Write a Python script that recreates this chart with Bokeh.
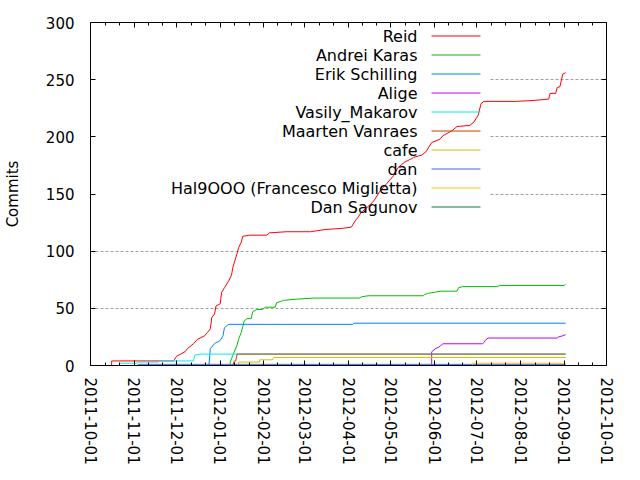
import datetime as dt
import pandas as pd
from bokeh.plotting import figure
from bokeh.models import (Range1d, FixedTicker, DatetimeAxis, LinearAxis,
                          DatetimeTickFormatter, Grid)
from bokeh.embed import file_html
from bokeh.resources import INLINE
from bokeh.core.properties import value

# ---------------- data ----------------
authors = ["Reid", "Andrei Karas", "Erik Schilling", "Alige", "Vasily_Makarov",
           "Maarten Vanraes", "cafe", "dan", "Hal9OOO (Francesco Miglietta)", "Dan Sagunov"]
colors = ["#ff0000", "#00c000", "#0080ff", "#c000ff", "#00eeee",
          "#c04000", "#c8c800", "#4169e1", "#ffc020", "#008040"]

reid_dates = ["2011-10-16", "2011-10-16", "2011-11-29", "2011-12-01", "2011-12-04", "2011-12-07",
              "2011-12-09", "2011-12-13", "2011-12-16", "2011-12-21", "2011-12-23", "2011-12-25",
              "2011-12-26", "2011-12-28", "2011-12-29", "2012-01-01", "2012-01-02", "2012-01-04",
              "2012-01-07", "2012-01-09", "2012-01-10", "2012-01-13", "2012-01-14", "2012-01-16",
              "2012-01-17", "2012-01-22", "2012-02-03", "2012-02-05", "2012-02-17", "2012-03-05",
              "2012-03-16", "2012-03-28", "2012-04-03", "2012-04-06", "2012-04-08", "2012-04-10",
              "2012-04-14", "2012-04-19", "2012-04-23", "2012-04-28", "2012-05-03", "2012-05-06",
              "2012-05-11", "2012-05-16", "2012-05-17", "2012-05-23", "2012-05-26", "2012-05-30",
              "2012-06-05", "2012-06-07", "2012-06-13", "2012-06-17", "2012-06-26", "2012-06-29",
              "2012-07-02", "2012-07-04", "2012-07-06", "2012-07-29", "2012-08-12", "2012-08-21",
              "2012-08-22", "2012-08-26", "2012-08-27", "2012-08-29", "2012-08-31", "2012-09-02"]
reid_commits = [0, 4, 4, 8, 10, 12,
                15, 19, 23, 26, 29, 32,
                42, 45, 52, 54, 64, 68,
                74, 79, 86, 98, 103, 108,
                113, 114, 114, 116, 117, 117,
                119, 120, 121, 127, 130, 134,
                138, 144, 152, 159, 166, 173,
                178, 181, 182, 184, 187, 195,
                198, 201, 205, 209, 210, 213,
                219, 229, 231, 231, 232, 233,
                238, 238, 243, 244, 255, 256]

andrei_dates = ["2011-10-16", "2012-01-08", "2012-01-08", "2012-01-09", "2012-01-10", "2012-01-11",
                "2012-01-13", "2012-01-14", "2012-01-16", "2012-01-17", "2012-01-18", "2012-01-20",
                "2012-01-23", "2012-01-24", "2012-01-27", "2012-01-31", "2012-02-02", "2012-02-09",
                "2012-02-10", "2012-02-13", "2012-02-15", "2012-02-24", "2012-03-08", "2012-04-09",
                "2012-04-10", "2012-04-15", "2012-05-24", "2012-05-25", "2012-05-27", "2012-06-01",
                "2012-06-05", "2012-06-17", "2012-06-18", "2012-06-21", "2012-07-16", "2012-07-17",
                "2012-09-01", "2012-09-02"]
andrei_commits = [0, 0, 2, 6, 9, 12,
                  18, 23, 29, 34, 39, 41,
                  41, 47, 49, 49, 51, 51,
                  55, 56, 57, 58, 59, 59,
                  60, 61, 61, 62, 63, 64,
                  65, 65, 68, 69, 69, 70,
                  70, 71]

erik_dates = ["2011-10-16", "2011-12-24", "2011-12-25", "2011-12-26", "2011-12-27", "2011-12-29",
              "2011-12-31", "2012-01-01", "2012-01-03", "2012-01-04", "2012-01-05", "2012-01-07",
              "2012-04-04", "2012-04-05", "2012-09-02"]
erik_commits = [0, 0, 15, 16, 18, 20,
                21, 22, 26, 33, 34, 36,
                36, 37, 37]

alige_dates = ["2011-10-16", "2012-05-30", "2012-05-30", "2012-05-31", "2012-06-02", "2012-06-04",
               "2012-06-05", "2012-06-07", "2012-07-05", "2012-07-06", "2012-07-07", "2012-07-09",
               "2012-08-27", "2012-08-28", "2012-08-31", "2012-09-02"]
alige_commits = [0, 0, 12, 13, 15, 16,
                 17, 19, 19, 20, 22, 24,
                 24, 25, 26, 27]

vasily_dates = ["2011-10-16", "2011-10-21", "2011-10-22", "2011-11-03", "2011-11-04", "2011-11-18",
                "2011-11-19", "2011-12-13", "2011-12-14", "2011-12-18", "2012-09-02"]
vasily_commits = [0, 0, 2, 2, 3, 3,
                  4, 4, 9, 10, 10]

maarten_dates = ["2011-10-16", "2012-01-10", "2012-01-11", "2012-01-12", "2012-01-13", "2012-09-02"]
maarten_commits = [0, 0, 4, 4, 10, 10]

cafe_dates = ["2011-10-16", "2012-01-14", "2012-01-14", "2012-01-29", "2012-01-29", "2012-02-07",
              "2012-02-08", "2012-09-02"]
cafe_commits = [0, 0, 3, 3, 5, 5,
                7, 7]

dan_dates = ["2011-10-16", "2011-11-04", "2011-11-04", "2012-09-02"]
dan_commits = [0, 0, 1, 1]

hal_dates = ["2011-10-16", "2012-06-28", "2012-06-28", "2012-09-02"]
hal_commits = [0, 0, 2, 2]

sagunov_dates = ["2011-10-16", "2012-09-02"]
sagunov_commits = [0, 0]

series_dates = [reid_dates, andrei_dates, erik_dates, alige_dates, vasily_dates,
                maarten_dates, cafe_dates, dan_dates, hal_dates, sagunov_dates]
series_commits = [reid_commits, andrei_commits, erik_commits, alige_commits, vasily_commits,
                  maarten_commits, cafe_commits, dan_commits, hal_commits, sagunov_commits]

month_ticks = ["2011-10-01", "2011-11-01", "2011-12-01", "2012-01-01", "2012-02-01",
               "2012-03-01", "2012-04-01", "2012-05-01", "2012-06-01", "2012-07-01",
               "2012-08-01", "2012-09-01", "2012-10-01"]
y_ticks = [0, 50, 100, 150, 200, 250, 300]

# ---------------- helpers ----------------
FONT = "DejaVu Sans"
FS = "15px"
KEY_FS = "16px"

def ms(s):
    return pd.Timestamp(s).value // 10**6

x_start = dt.datetime(2011, 10, 1)
x_end = dt.datetime(2012, 10, 1)
x0_ms, x1_ms = ms("2011-10-01"), ms("2012-10-01")
Y0, Y1 = 0, 300

# frame geometry (reference picture pixels)
FX0, FX1, FY0, FY1 = 90.0, 606.0, 22.0, 365.0

def px_to_x(px):
    return x0_ms + (px - FX0) / (FX1 - FX0) * (x1_ms - x0_ms)

def px_to_y(py):
    return Y0 + (FY1 - py) / (FY1 - FY0) * (Y1 - Y0)

major = [ms(m) for m in month_ticks]
minor = []
for a, b in zip(major[:-1], major[1:]):
    minor += [a + (b - a) / 3.0, a + 2.0 * (b - a) / 3.0]

xticker = FixedTicker(ticks=major, minor_ticks=minor)
yticker = FixedTicker(ticks=y_ticks)
fmt = DatetimeTickFormatter(microseconds="%Y-%m-%d", milliseconds="%Y-%m-%d", seconds="%Y-%m-%d",
                            minsec="%Y-%m-%d", minutes="%Y-%m-%d", hourmin="%Y-%m-%d",
                            hours="%Y-%m-%d", days="%Y-%m-%d", months="%Y-%m-%d", years="%Y-%m-%d")

p = figure(frame_width=516, frame_height=343,
           x_range=Range1d(x_start, x_end), y_range=Range1d(Y0, Y1),
           x_axis_type=None, y_axis_type=None,
           output_backend="svg", toolbar_location=None,
           min_border_left=82, min_border_right=26, min_border_top=22, min_border_bottom=105)
p.outline_line_color = None
p.background_fill_color = "white"
p.border_fill_color = "white"


def style_axis(ax, labels, is_x):
    ax.axis_line_color = "black"
    ax.axis_line_width = 1
    ax.major_tick_line_color = "black"
    ax.major_tick_in = 5
    ax.major_tick_out = 0
    if is_x:
        ax.minor_tick_line_color = "black"
        ax.minor_tick_in = 3
        ax.minor_tick_out = 0
    else:
        ax.minor_tick_line_color = None
    ax.major_label_text_font = FONT
    ax.major_label_text_color = "black"
    if labels:
        ax.major_label_text_font_size = FS
    else:
        ax.major_label_text_font_size = "0px"
        ax.major_label_standoff = 0


bx = DatetimeAxis(ticker=xticker, formatter=fmt)
style_axis(bx, True, True)
bx.major_label_orientation = "vertical"
bx.major_label_standoff = 12
p.add_layout(bx, "below")

tx = DatetimeAxis(ticker=xticker, formatter=fmt)
style_axis(tx, False, True)
p.add_layout(tx, "above")

ly = LinearAxis(ticker=yticker, axis_label="Commits")
style_axis(ly, True, False)
ly.major_label_standoff = 16
ly.axis_label_text_font = FONT
ly.axis_label_text_font_size = FS
ly.axis_label_text_font_style = "normal"
ly.axis_label_text_color = "black"
ly.axis_label_standoff = 21
p.add_layout(ly, "left")

ry = LinearAxis(ticker=yticker)
style_axis(ry, False, False)
p.add_layout(ry, "right")

p.add_layout(Grid(dimension=1, ticker=yticker, grid_line_color="#a0a0a0",
                  grid_line_dash="3 2", grid_line_width=1))

# key area (hides the grid behind the key, like gnuplot)
p.quad(left=[px_to_x(FX0)], right=[px_to_x(489)], bottom=[px_to_y(216)], top=[Y1],
       fill_color="white", line_color=None)

for d, c, col in zip(series_dates, series_commits, colors):
    p.line(x=pd.to_datetime(d), y=c, line_color=col, line_width=1)

# key: labels right-aligned, sample line to the right (rows on pixel centres)
row_y = [px_to_y(35.5 + 19 * i) for i in range(len(authors))]
p.text(x=[px_to_x(417)] * len(authors), y=row_y, text=authors,
       text_align="right", text_baseline="middle",
       text_font=value(FONT), text_font_size=KEY_FS, text_color="black")
for yy, col in zip(row_y, colors):
    p.line(x=[px_to_x(431), px_to_x(480)], y=[yy, yy], line_color=col, line_width=1)

open("out.html", "w").write(file_html(p, INLINE))
